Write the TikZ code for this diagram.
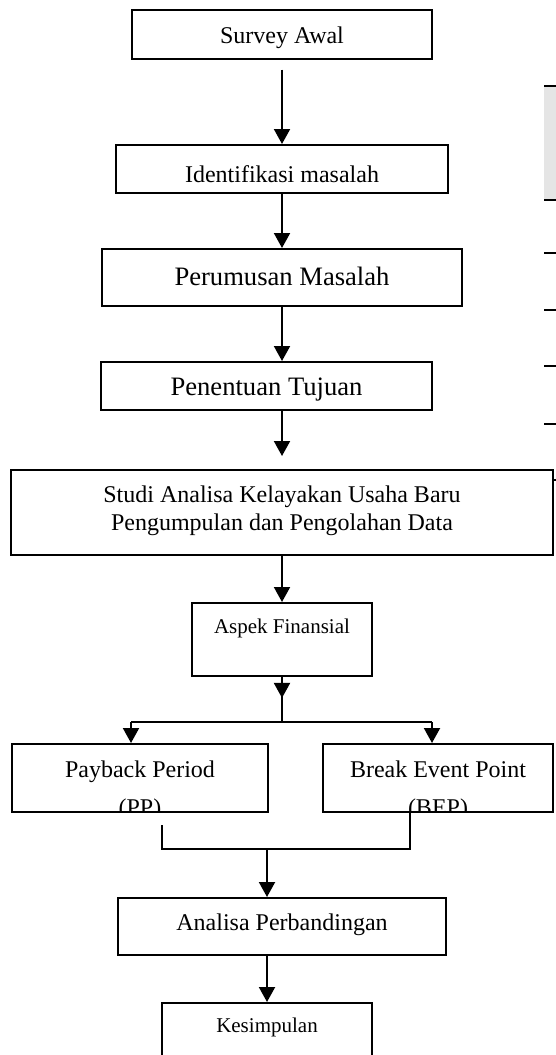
\documentclass[tikz,border=0pt]{standalone}
\usepackage{fontspec}
\setmainfont{Liberation Serif}
\usetikzlibrary{arrows.meta, calc}

\begin{document}
\begin{tikzpicture}[x=0.5pt, y=-0.5pt,
    kotak/.style={draw, line width=0.8pt, inner sep=0pt, align=center, anchor=north, font=\fontsize{12}{14}\selectfont},
    besar/.style={font=\fontsize{13.3}{15.5}\selectfont},
    kecil/.style={font=\fontsize{10.5}{12.5}\selectfont},
    garis/.style={line width=0.8pt},
    panah/.style={line width=1pt, -{Triangle[length=7.5pt, width=8pt]}}]
    \clip (0,0) rectangle (556,1055);

    \node[kotak, minimum width=150pt, text height=17pt, text depth=7.5pt] (survey) at (282,9) {Survey Awal};
    \node[kotak, minimum width=166pt, text height=19pt, text depth=5pt] (ident) at (282,144) {Identifikasi masalah};
    \node[kotak, besar, minimum width=180pt, text height=18.5pt, text depth=10pt] (perum) at (282,248) {Perumusan Masalah};
    \node[kotak, besar, minimum width=165.5pt, text height=17pt, text depth=7pt] (pen) at (266.5,361) {Penentuan Tujuan};
    \node[kotak, minimum width=271pt, text height=30.5pt, text depth=12pt] (studi) at (282,469) {Studi Analisa Kelayakan Usaha Baru\\Pengumpulan dan Pengolahan Data};
    \node[kotak, kecil, minimum width=90pt, text height=15.5pt, text depth=21pt] (aspek) at (282,602) {Aspek Finansial};

    \node[kotak, minimum width=128pt, minimum height=34pt,
      path picture={\node[draw=none, anchor=base, align=center, inner sep=0pt, font=\fontsize{12}{14}\selectfont]
        at ([yshift=-36pt]path picture bounding box.north) {Payback Period\\[5pt](PP)};}] (pp) at (140,743) {};
    \node[kotak, minimum width=115pt, minimum height=34pt,
      path picture={\node[draw=none, anchor=base, align=center, inner sep=0pt, font=\fontsize{12}{14}\selectfont]
        at ([yshift=-36pt]path picture bounding box.north) {Break Event Point\\[5pt](BEP)};}] (bep) at (438,743) {};

    \node[kotak, minimum width=164pt, text height=16.5pt, text depth=12pt] (analisa) at (282,897) {Analisa Perbandingan};
    \node[kotak, kecil, minimum width=105pt, text height=15pt, text depth=22pt] (kesimpulan) at (267,1002) {Kesimpulan};

    \draw[panah, shorten <=5pt] (survey) -- (ident);
    \draw[panah] (ident) -- (perum);
    \draw[panah] (perum) -- (perum |- pen.north);
    \draw[panah, shorten >=6.5pt] (perum |- pen.south) -- (studi);
    \draw[panah] (studi) -- (aspek);

    \coordinate (cabang) at (282,722);
    \coordinate (kiri) at (131,722);
    \coordinate (kanan) at (432,722);
    \draw[garis] (aspek.south) -- (cabang);
    \draw[panah] (aspek.south) -- ($(aspek.south)!0.47!(cabang)$);
    \draw[garis] (kiri) -- (kanan);
    \draw[panah] (kiri) -- (kiri |- pp.north);
    \draw[panah] (kanan) -- (kanan |- bep.north);

    \coordinate (awalpp) at (162,825);
    \coordinate (akhirbep) at ([xshift=-14pt]bep.south);
    \coordinate (gabung) at (267,849);
    \draw[garis] (awalpp) |- (akhirbep |- gabung) -- (akhirbep);
    \draw[panah] (gabung) -- (gabung |- analisa.north);
    \draw[panah] (gabung |- analisa.south) -- (kesimpulan);

    \fill[black!10] (544,86) rectangle (556,200);
    \foreach \y in {86,200,253,310,366,424}
      \draw[line width=1pt] (544,\y) -- (556,\y);
    \draw[garis] (553,480) -- (556,480);
\end{tikzpicture}
\end{document}
